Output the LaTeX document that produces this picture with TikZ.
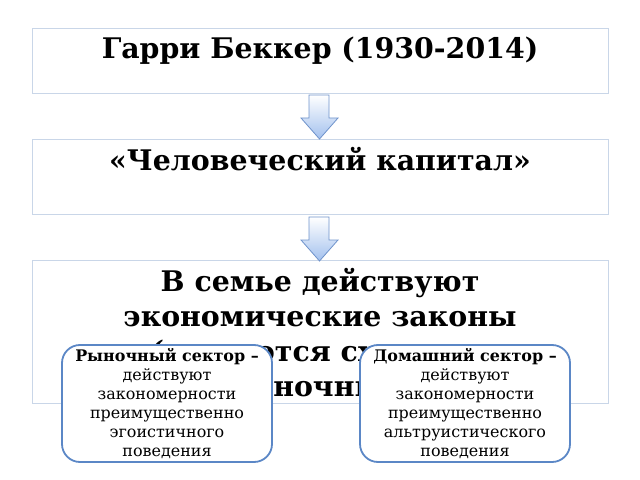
\documentclass[tikz,border=0pt]{standalone}
\usepackage{fontspec}
\setmainfont{DejaVu Serif}
\usetikzlibrary{positioning}
\definecolor{framegray}{HTML}{C9D6E8}
\definecolor{arrowline}{HTML}{6F93CB}
\definecolor{arrowfill}{HTML}{A3C1EE}
\definecolor{secblue}{HTML}{5B87C6}
\tikzset{
  frame/.style={draw=framegray, line width=0.8bp, minimum width=576bp, inner sep=0pt},
  bigtext/.style={font=\bfseries\fontsize{28.5}{35}\selectfont, inner sep=0pt},
  lawtext/.style={align=center, font=\bfseries\fontsize{28.5}{35}\selectfont, inner sep=0pt},
  sector/.style={draw=secblue, line width=1.8bp, fill=white, rounded corners=18bp,
    minimum width=210bp, minimum height=117bp, align=center, inner sep=0pt,
    font=\fontsize{16}{19}\selectfont}
}
\begin{document}
\begin{tikzpicture}[x=1bp,y=-1bp]
  \useasboundingbox (0,0) rectangle (640,480);
  % the three frames
  \node[frame, minimum height=65bp] (f1) at (320,60.5) {};
  \node[frame, minimum height=75bp] (f2) at (320,176.5) {};
  \node[frame, minimum height=143bp] (f3) at (320,331.5) {};
  \node[bigtext, anchor=north] (becker) at (320,37) {Гарри Беккер (1930-2014)};
  \node[bigtext, anchor=north] (capital) at (320,147) {«Человеческий капитал»};
  \node[lawtext, anchor=north] (laws) at (320,268.5) {В семье действуют\\экономические законы\\(являются схожими\\с рыночными)};
  % block arrows between the frames
  \foreach \t in {95,217}{
    \draw[arrowline, line width=0.8bp, top color=white, bottom color=arrowfill]
      (309,\t) -- (329,\t) -- (329,\t+23) -- (338,\t+23) -- (319.5,\t+44)
      -- (301,\t+23) -- (309,\t+23) -- cycle;
  }
  % the two sectors
  \node[sector] (market) at (167,403.5) {\textbf{Рыночный сектор –}\\действуют\\закономерности\\преимущественно\\эгоистичного\\поведения};
  \node[sector] (home) at (465,403.5) {\textbf{Домашний сектор –}\\действуют\\закономерности\\преимущественно\\альтруистического\\поведения};
\end{tikzpicture}
\end{document}
